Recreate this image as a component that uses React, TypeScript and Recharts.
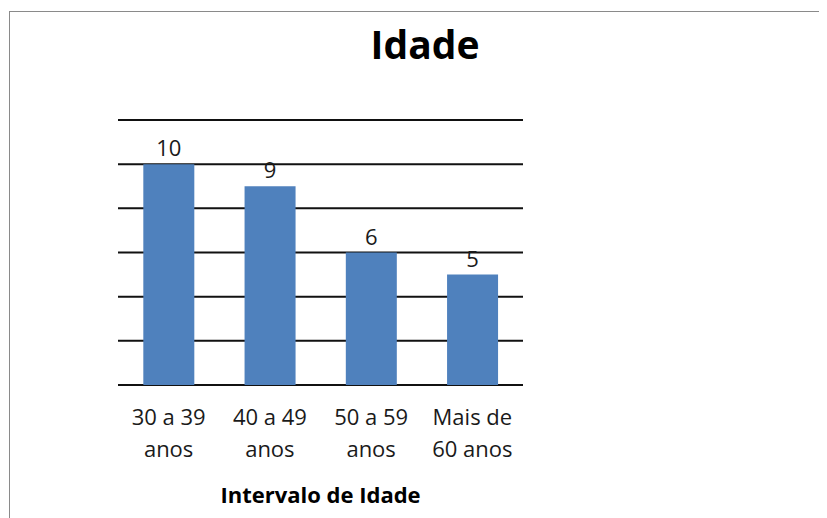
import React from "react";
import { BarChart, Bar, XAxis, YAxis, CartesianGrid, LabelList } from "recharts";

const categories = ["30 a 39\nanos", "40 a 49\nanos", "50 a 59\nanos", "Mais de\n60 anos"];
const counts = [10, 9, 6, 5];
const yTicks = [0, 2, 4, 6, 8, 10, 12];
const title = "Idade";
const xTitle = "Intervalo de Idade";

const data = categories.map((c, i) => ({ name: c, value: counts[i] }));

const FONT = "'Open Sans', sans-serif";

const Tick = (props: any) => {
  const { x, y, payload } = props;
  const lines = String(payload.value).split("\n");
  return (
    <text x={x} y={y} textAnchor="middle" fill="#1a1a1a" fontSize={22} fontFamily={FONT}>
      {lines.map((l, i) => (
        <tspan key={i} x={x} dy={i === 0 ? 40 - (y - 377) : 32}>
          {l}
        </tspan>
      ))}
    </text>
  );
};

export default function App() {
  return (
    <div style={{ position: "relative", width: 819, height: 510, overflow: "hidden", background: "#fff" }}>
      <div
        style={{
          position: "absolute",
          left: 1,
          top: 3,
          width: 1000,
          height: 1000,
          border: "1px solid #8a8a8a",
          boxSizing: "border-box",
        }}
      />
      <div
        style={{
          position: "absolute",
          left: 217,
          width: 400,
          top: 8,
          textAlign: "center",
          fontFamily: FONT,
          fontWeight: 700,
          fontSize: 39,
          lineHeight: "56px",
          color: "#000",
        }}
      >
        {title}
      </div>
      <div style={{ position: "absolute", left: 0, top: 0 }}>
        <BarChart
          width={819}
          height={510}
          data={data}
          margin={{ top: 112, right: 304, bottom: 0, left: 110 }}
          barCategoryGap="25%"
        >
          <CartesianGrid vertical={false} stroke="#111" strokeWidth={2} />
          <YAxis hide domain={[0, 12]} ticks={yTicks} />
          <XAxis
            dataKey="name"
            height={133}
            axisLine={false}
            tickLine={false}
            tick={<Tick />}
            interval={0}
            label={{
              value: xTitle,
              position: "insideBottom",
              offset: 15,
              fill: "#000",
              fontSize: 22,
              fontWeight: 700,
              fontFamily: FONT,
            }}
          />
          <Bar dataKey="value" fill="#4F81BD" isAnimationActive={false}>
            <LabelList
              dataKey="value"
              position="top"
              offset={8}
              fill="#1a1a1a"
              fontSize={22}
              fontFamily={FONT}
            />
          </Bar>
        </BarChart>
      </div>
    </div>
  );
}
